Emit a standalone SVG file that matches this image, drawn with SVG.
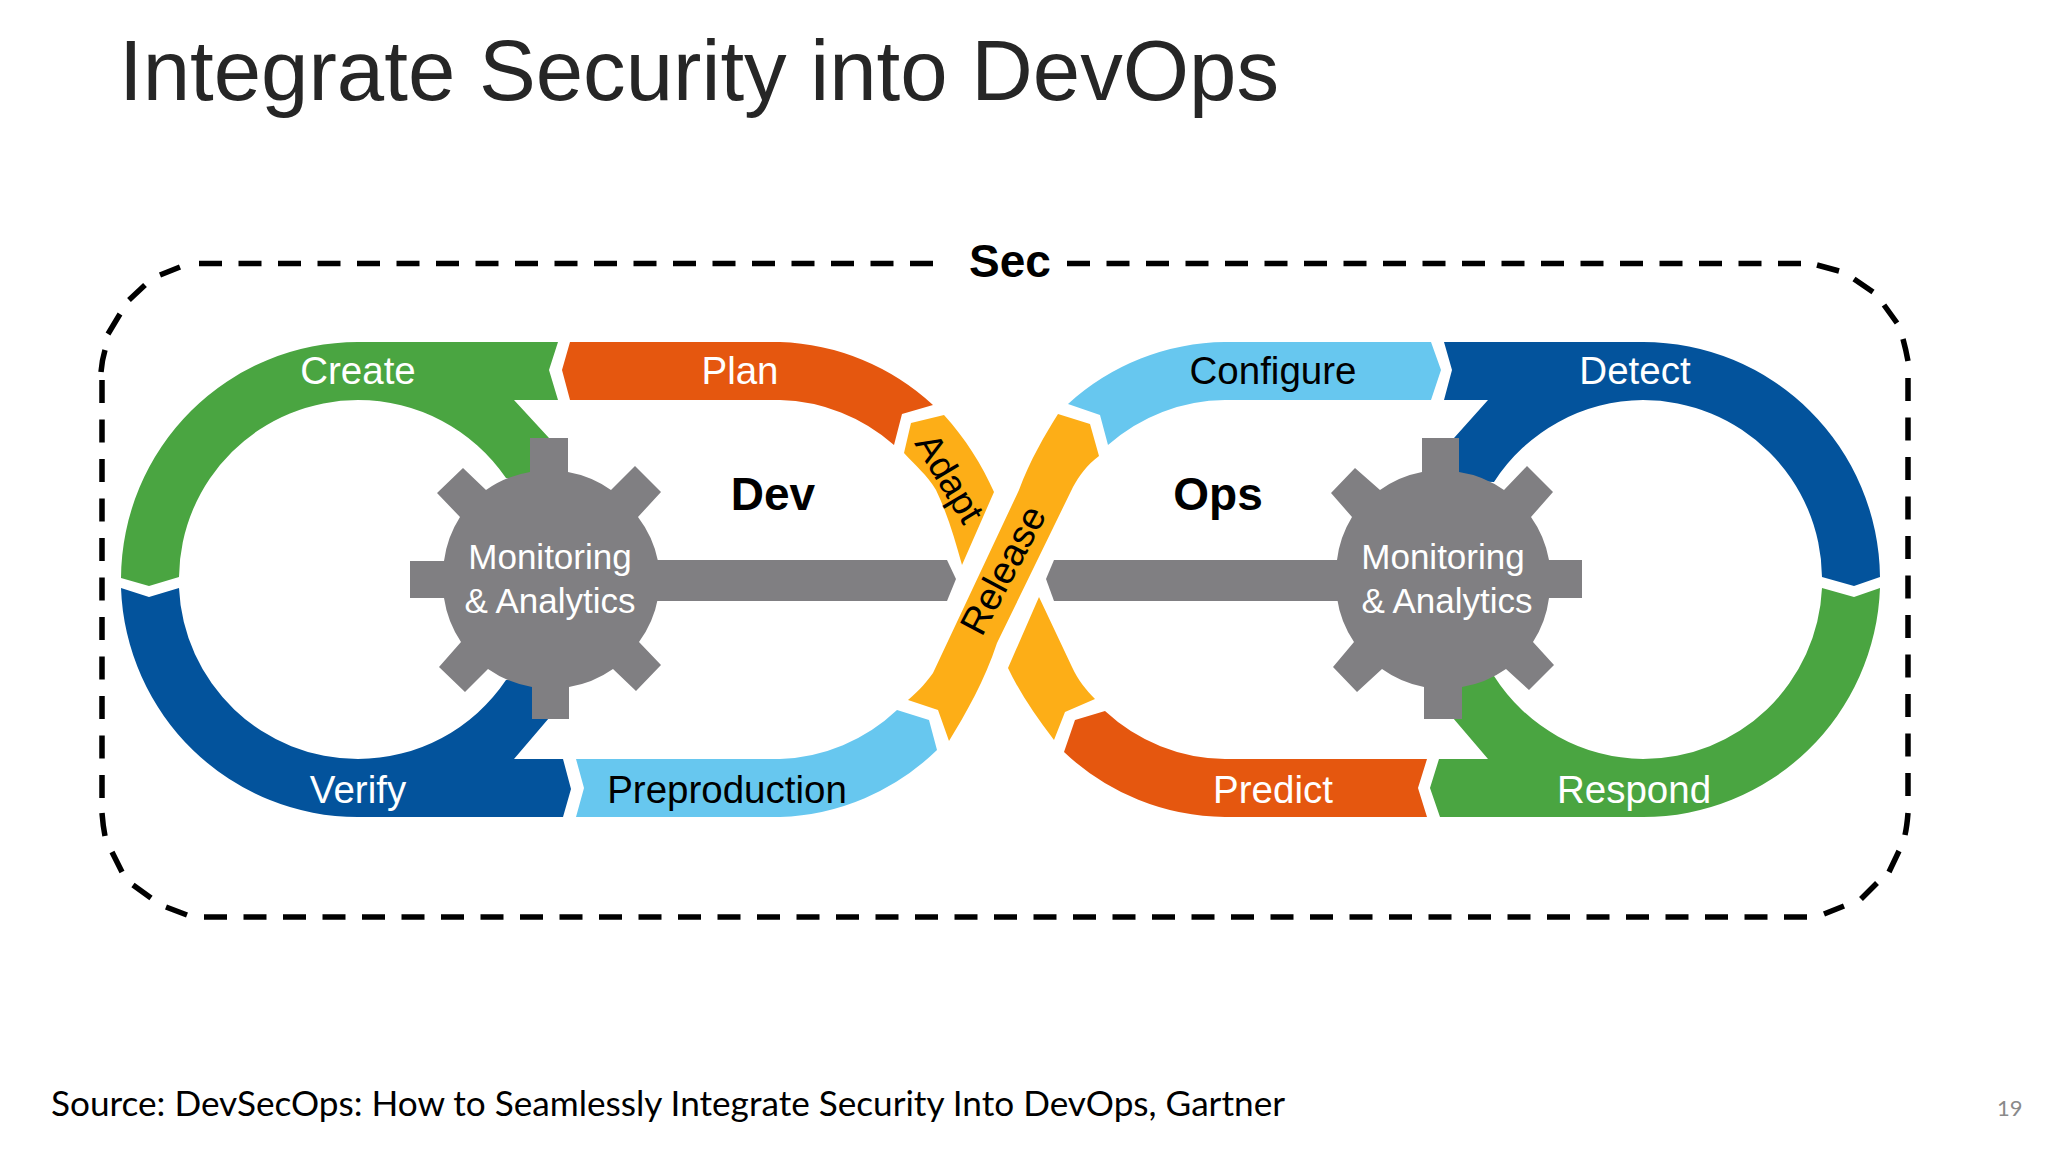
<svg xmlns="http://www.w3.org/2000/svg" width="2048" height="1152" viewBox="0 0 2048 1152">
<style>
text{font-family:"Liberation Sans",Arial,sans-serif}
.l{font-size:38.500px;text-anchor:middle}
.w{fill:#fff}.k{fill:#000}
.m{font-size:35px;text-anchor:middle;fill:#fff}
.b{font-size:46px;font-weight:700;text-anchor:middle;fill:#000}
.d{fill:none;stroke:#000;stroke-width:5.500px}
.e{stroke-dasharray:23 16.500}
.green{fill:#4AA541}.orange{fill:#E5570F}.blue{fill:#03539C}.sky{fill:#67C7EF}.yellow{fill:#FDAE17}.grey{fill:#807F82}
</style>
<rect width="2048" height="1152" fill="#fff"/>
<text x="119" y="100" font-size="85.200" fill="#262626" id="title">Integrate Security into DevOps</text>
<g id="connectors">
<g id="sec-boundary">
<path class="d e" d="M933,263.500 H197"/>
<path class="d e" d="M1067,263.500 H1802"/>
<path class="d e" d="M204,917 H1807"/>
<path class="d e" d="M102,380 V798"/>
<path class="d e" d="M1908,378 V796"/>
<path class="d" d="M180,267 L160,275 M145,285 L129,300 M120,314 L108,334 M105,350 Q102,360 101,372"/>
<path class="d" d="M1817,265 L1839,271 M1854,279 L1873,292 M1884,305 L1897,323 M1903,339 Q1906,350 1908,361"/>
<path class="d" d="M102,813 Q103,826 105,836 M112,852 L122,872 M133,885 L151,898 M166,907 L187,915"/>
<path class="d" d="M1908,813 Q1907,826 1905,835 M1899,851 L1889,872 M1877,883 L1861,899 M1844,906 L1824,914"/>
</g>
<path id="bar-dev" class="grey" d="M650,560 H947 L956,579 L947,601 H650 Z"/>
<path id="bar-ops" class="grey" d="M1345,560 H1054 L1046,579 L1054,601 H1345 Z"/>
</g>
<g id="sec"><text class="b" x="1010" y="277">Sec</text></g>
<g id="create"><path class="green" d="M121,578 A237,237.500 0 0 1 358,342 H558 L549,370 L558,400 H514 L549,438 L560,480 L506,478 A179,179 0 0 0 358,400 A179,179 0 0 0 179,577 L149,586 Z"/><text class="l w" x="358" y="384">Create</text></g>
<g id="verify"><path class="blue" d="M121,588 L149,597 L179,588 A179,179 0 0 0 358,759 A179,179 0 0 0 506,680 L560,680 L549,718 L514,759 H563 L571,789 L563,817 H358 A237,237.500 0 0 1 121,588 Z"/><text class="l w" x="358" y="803">Verify</text></g>
<g id="plan"><path class="orange" d="M562,370 L570,342 H780 A237,237 0 0 1 933,405 L902,414 L894,445 A179,179 0 0 0 780,400 H570 Z"/><text class="l w" x="740" y="384">Plan</text></g>
<g id="preproduction"><path class="sky" d="M576,759 L584,788 L576,817 H780 A237,237 0 0 0 937,750 L929,720 L897,710 A179,179 0 0 1 780,759 Z"/><text class="l k" x="727" y="803">Preproduction</text></g>
<g id="adapt"><path class="yellow" d="M911,423 L944,415 C965,438 982,465 994,492 L962,565 C955,540 948,515 936,490 C927,475 915,465 904,453 Z"/><text class="l k" style="font-size:37px" transform="translate(950,478) rotate(59) translate(0,13)">Adapt</text></g>
<g id="release"><path class="yellow" d="M1058,414 L1090,424 L1099,456 C1087,465 1079,476 1073,487 L997,643 C985,680 965,715 949,741 L938,710 L908,700 C920,690 928,680 933,673 L1019,490 C1030,460 1045,435 1058,414 Z"/><text class="l k" style="font-size:38px" transform="translate(1003,570) rotate(-62) translate(0,13)">Release</text></g>
<g id="release-lower"><path class="yellow" d="M1039,597 L1072,667 C1078,680 1086,690 1095,699 L1065,712 L1054,740 Q1023,700 1008,668 Z"/></g>
<g id="configure"><path class="sky" d="M1068,404 A237,237 0 0 1 1225,342 H1431 L1441,370 L1431,400 H1225 A179,179 0 0 0 1108,445 L1100,415 Z"/><text class="l k" x="1273" y="384">Configure</text></g>
<g id="predict"><path class="orange" d="M1105,711 A179,179 0 0 0 1225,759 H1427 L1418,788 L1427,817 H1225 A237,237 0 0 1 1064,752 L1075,720 Z"/><text class="l w" x="1273" y="803">Predict</text></g>
<g id="detect"><path class="blue" d="M1444,342 H1643 A237,237.500 0 0 1 1880,577 L1854,586 L1822,577 A179,179 0 0 0 1643,400 A179,179 0 0 0 1494,482 L1440,480 L1454,438 L1488,400 H1444 L1452,370 Z"/><text class="l w" x="1635" y="384">Detect</text></g>
<g id="respond"><path class="green" d="M1822,588 L1854,597 L1880,588 A237,237.500 0 0 1 1643,817 H1440 L1430,788 L1439,759 H1488 L1453,718 L1440,680 L1494,676 A179,179 0 0 0 1643,759 A179,179 0 0 0 1822,588 Z"/><text class="l w" x="1634" y="803">Respond</text></g>
<g id="gear-dev"><path class="grey" d="M530,472 V438 H568 V472 A107,107 0 0 1 611,490 L635,466 L661,492 L638,517 A107,107 0 0 1 658,561 V598 A107,107 0 0 1 639,642 L661,665 L636,691 L613,669 A107,107 0 0 1 569,687 V719 H532 V687 A107,107 0 0 1 488,669 L465,692 L439,667 L461,642 A107,107 0 0 1 444,598 H410 V561 H444 A107,107 0 0 1 460,517 L437,493 L463,468 L486,490 A107,107 0 0 1 530,472 Z"/><text class="m" x="550" y="569">Monitoring</text><text class="m" x="550" y="613">&amp; Analytics</text></g>
<g id="gear-ops"><path class="grey" d="M1422,472 V438 H1459 V472 A106,106 0 0 1 1504,490 L1527,466 L1553,492 L1531,517 A106,106 0 0 1 1549,560 H1582 V598 H1549 A106,106 0 0 1 1533,642 L1554,665 L1529,690 L1506,669 A106,106 0 0 1 1462,687 V719 H1424 V687 A106,106 0 0 1 1382,669 L1357,692 L1333,667 L1354,642 A106,106 0 0 1 1337,598 V560 A106,106 0 0 1 1352,517 L1331,493 L1355,468 L1380,490 A106,106 0 0 1 1422,472 Z"/><text class="m" x="1443" y="569">Monitoring</text><text class="m" x="1447" y="613">&amp; Analytics</text></g>
<g id="dev"><text class="b" x="773" y="510">Dev</text></g>
<g id="ops"><text class="b" x="1218" y="510">Ops</text></g>
<text id="source" x="51" y="1116" font-size="35" fill="#000" style="font-family:Lato,'Liberation Sans',sans-serif" textLength="1234" lengthAdjust="spacingAndGlyphs">Source: DevSecOps: How to Seamlessly Integrate Security Into DevOps, Gartner</text>
<text id="page" x="1997" y="1116" font-size="22" fill="#8a8a8a" style="font-family:Lato,'Liberation Sans',sans-serif">19</text>
</svg>
